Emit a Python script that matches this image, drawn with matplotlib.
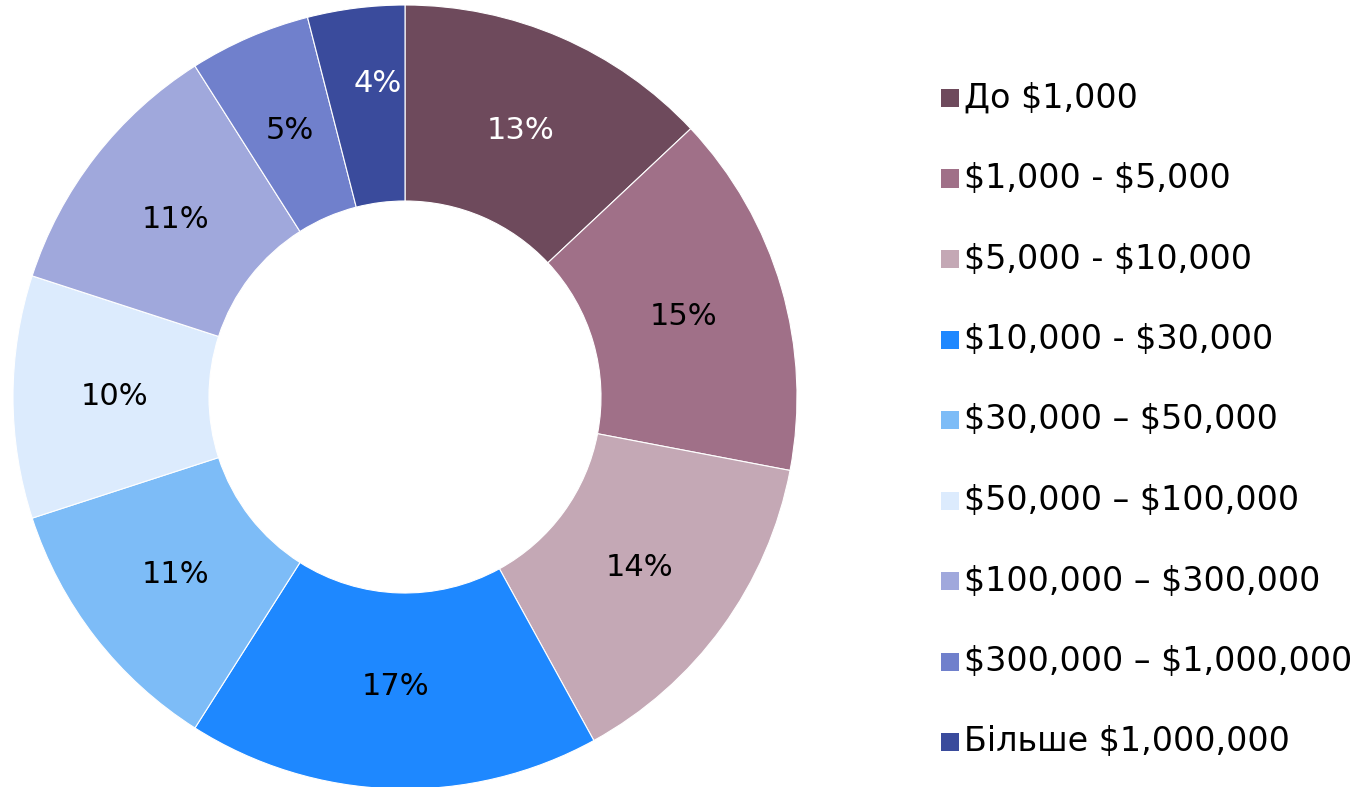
import matplotlib.pyplot as plt
from matplotlib.patches import Rectangle

# дані
labels = ["До $1,000", "$1,000 - $5,000", "$5,000 - $10,000", "$10,000 - $30,000",
          "$30,000 – $50,000", "$50,000 – $100,000", "$100,000 – $300,000",
          "$300,000 – $1,000,000", "Більше $1,000,000"]
values = [13, 15, 14, 17, 11, 10, 11, 5, 4]
colors = ["#6E4A5C", "#A07088", "#C4A8B5", "#1E88FF", "#7DBCF7",
          "#DCEBFD", "#A0A8DC", "#7080CC", "#3A4B9C"]
text_colors = ["white", "black", "black", "black", "black",
               "black", "black", "black", "white"]

plt.rcParams['font.family'] = ['DejaVu Sans']
plt.rcParams['text.parse_math'] = False

W, H = 1365, 787
fig = plt.figure(figsize=(W / 100, H / 100), dpi=100)
cx, cy, r = 405, 397, 392
ax = fig.add_axes([(cx - r) / W, (H - cy - r) / H, 2 * r / W, 2 * r / H])

wedges, texts, autotexts = ax.pie(values, colors=colors, startangle=90, counterclock=False,
                                  radius=1, autopct='%1.0f%%', pctdistance=0.74,
                                  wedgeprops=dict(width=0.5, edgecolor='white', linewidth=0.8),
                                  textprops=dict(fontsize=22))
for t, c in zip(autotexts, text_colors):
    t.set_color(c)
# маленький сегмент — підпис ближче до краю
autotexts[-1].set_position((autotexts[-1].get_position()[0] * 0.75,
                            autotexts[-1].get_position()[1] * 1.09))
ax.set_xlim(-1, 1)
ax.set_ylim(-1, 1)
ax.set_aspect('equal')
ax.axis('off')

# легенда
y0, step = 98, 80.5
for i, (lab, col) in enumerate(zip(labels, colors)):
    y = y0 + i * step
    fig.patches.append(Rectangle((941 / W, (H - y - 9) / H), 18 / W, 18 / H,
                                 transform=fig.transFigure, facecolor=col, edgecolor='none'))
    fig.text(964 / W, (H - y) / H, lab, fontsize=24, va='center', ha='left', color='black')

plt.savefig("out.png", dpi=100)
